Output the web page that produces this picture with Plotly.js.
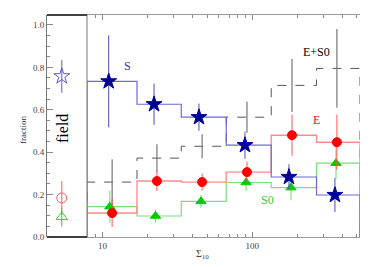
<!DOCTYPE html>
<html><head><meta charset="utf-8">
<script src="https://cdn.plot.ly/plotly-3.0.1.min.js"></script>
<style>html,body{margin:0;padding:0;background:#fff}#plot{width:374px;height:267px}</style>
</head><body><div id="plot"></div>
<script>
// bin edges of Sigma_10 (log axis)
const binEdges = [7.88, 17.0, 33.6, 67.1, 134, 269, 525];
// S (spirals)
const xS = [11.0, 22.1, 44.1, 89.5, 176, 357];
const fracS = [0.734, 0.626, 0.565, 0.433, 0.283, 0.198];
const errS = [0.217, 0.097, 0.064, 0.064, 0.06, 0.08];
// E
const xE = [11.6, 23.1, 46.3, 92.3, 184.5, 368];
const fracE = [0.113, 0.264, 0.259, 0.306, 0.48, 0.447];
const errE = [0.066, 0.047, 0.04, 0.05, 0.097, 0.13];
// S0
const xS0 = [11.2, 22.6, 45.5, 91, 181.6, 363];
const fracS0 = [0.143, 0.099, 0.168, 0.257, 0.233, 0.348];
const errS0 = [0.075, 0.03, 0.03, 0.04, 0.06, 0.075];
// E+S0
const xES0 = [11.6, 23.1, 46.3, 92.3, 184.5, 368];
const fracES0 = [0.259, 0.372, 0.428, 0.565, 0.715, 0.795];
const errES0 = [0.108, 0.066, 0.057, 0.073, 0.125, 0.186];
// field values
const fieldX = [0.37];
const fieldS = [0.758], fieldSErr = [0.078];
const fieldE = [0.184], fieldEErr = [0.08];
const fieldS0 = [0.094], fieldS0Err = [0.045];

function steps(edges, vals){
  const xs=[edges[0]], ys=[0];
  for(let i=0;i<vals.length;i++){ xs.push(edges[i]); ys.push(vals[i]); }
  xs.push(edges[edges.length-1]); ys.push(vals[vals.length-1]);
  xs.push(edges[edges.length-1]); ys.push(0);
  return {xs, ys};
}
function stepTrace(vals, color, width, dash){
  const s = steps(binEdges, vals);
  return {x:s.xs, y:s.ys, xaxis:'x2', yaxis:'y', mode:'lines', hoverinfo:'skip',
    line:{shape:'hv', color:color, width:width, dash:dash||'solid'}, showlegend:false};
}
function pts(x, y, err, sym, size, color, ecolor, axis, lineColor){
  return {x:x, y:y, xaxis:axis, yaxis:'y', mode:'markers', showlegend:false,
    marker:{symbol:sym, size:size, color:color, line:{color:lineColor||color, width:1}},
    error_y:{type:'data', array:err, visible:true, color:ecolor, thickness:1, width:0}};
}

const traces = [
  stepTrace(fracES0, '#555555', 1, 'dash'),
  stepTrace(fracS0, '#7ddc7d', 1.2),
  stepTrace(fracE, '#ff8c8c', 1.4),
  stepTrace(fracS, '#6b6bd6', 1.2),
  {x:xES0, y:fracES0, xaxis:'x2', yaxis:'y', mode:'markers', showlegend:false,
   marker:{size:1, opacity:0}, error_y:{type:'data', array:errES0, visible:true, color:'#777777', thickness:1.2, width:0}},
  pts(xS0, fracS0, errS0, 'triangle-up', 9, '#00cc00', '#66dd66', 'x2'),
  pts(xE, fracE, errE, 'circle', 9, '#ff0000', '#ff5555', 'x2'),
  pts(xS, fracS, errS, 'star', 12, '#000099', '#4c4cc8', 'x2'),
  pts(fieldX, fieldS, fieldSErr, 'star-open', 12, '#5a5ad2', '#5a5ad2', 'x'),
  pts(fieldX, fieldE, fieldEErr, 'circle-open', 10, '#ff5a5a', '#ff5a5a', 'x'),
  pts(fieldX, fieldS0, fieldS0Err, 'triangle-up-open', 10, '#33cc33', '#33cc33', 'x')
];

const split = 40/313;
const serif = 'Liberation Serif, serif';
const tickFont = {family:serif, size:9, color:'#444'};
function ann(text, x, y, size, color, angle){
  return {text:text, xref:'paper', yref:'paper', x:x, y:y, xanchor:'center', yanchor:'middle',
    textangle:angle||0, showarrow:false, font:{family:serif, size:size, color:color}};
}
const layout = {
  width:374, height:267,
  margin:{l:47, r:14, t:15, b:30, pad:0},
  paper_bgcolor:'#fff', plot_bgcolor:'#fff',
  showlegend:false,
  xaxis:{domain:[0, split], range:[0,1], showticklabels:false, ticks:'', showgrid:false, zeroline:false, showline:false, fixedrange:true},
  xaxis2:{domain:[split, 1], type:'log', range:[Math.log10(binEdges[0]), Math.log10(binEdges[binEdges.length-1])],
    anchor:'y', tickmode:'array', tickvals:[10,100], ticktext:['10','100'], ticks:'inside', ticklen:5, tickcolor:'#888',
    minor:{tickmode:'array', tickvals:[8,9,20,30,40,50,60,70,80,90,200,300,400,500], ticks:'inside', ticklen:3, tickcolor:'#888'},
    showline:true, linecolor:'#999', linewidth:1, mirror:'ticks', showgrid:false, zeroline:false, tickfont:tickFont},
  yaxis:{range:[0, 1.047], anchor:'x', side:'left', tickmode:'linear', tick0:0, dtick:0.2, tickformat:'.1f',
    ticks:'inside', ticklen:6, tickcolor:'#888',
    minor:{dtick:0.05, ticks:'inside', ticklen:3, tickcolor:'#888'},
    showline:true, linecolor:'#777', linewidth:1, showgrid:false, zeroline:false, tickfont:tickFont},
  yaxis2:{range:[0, 1.047], overlaying:'y', anchor:'x2', side:'right', tickmode:'linear', tick0:0, dtick:0.2,
    ticks:'inside', ticklen:6, tickcolor:'#888', showticklabels:false,
    minor:{dtick:0.05, ticks:'inside', ticklen:3, tickcolor:'#888'},
    showline:true, linecolor:'#999', linewidth:1, showgrid:false, zeroline:false},
  shapes:[
    {type:'line', xref:'paper', yref:'paper', x0:0, x1:split, y0:1, y1:1, line:{color:'#000', width:1.5}},
    {type:'line', xref:'paper', yref:'paper', x0:0, x1:split, y0:0, y1:0, line:{color:'#000', width:1.5}},
    {type:'line', xref:'paper', yref:'paper', x0:split, x1:split, y0:0, y1:1, line:{color:'#777', width:1}, layer:'below'}
  ],
  annotations:[
    ann('S', 0.2556, 0.770, 12, '#3333bb'),
    ann('E+S0', 0.8626, 0.833, 12, '#000'),
    ann('E', 0.8626, 0.527, 12, '#cc2222'),
    ann('S0', 0.7029, 0.1667, 12, '#33cc33'),
    ann('field', 0.0511, 0.491, 16, '#000', -90),
    ann('fraction', -0.0767, 0.482, 9, '#333', -90),
    ann('Σ<sub>10</sub>', 0.498, -0.081, 10, '#444')
  ]
};
Plotly.newPlot('plot', traces, layout, {staticPlot:true, displayModeBar:false});
</script></body></html>
